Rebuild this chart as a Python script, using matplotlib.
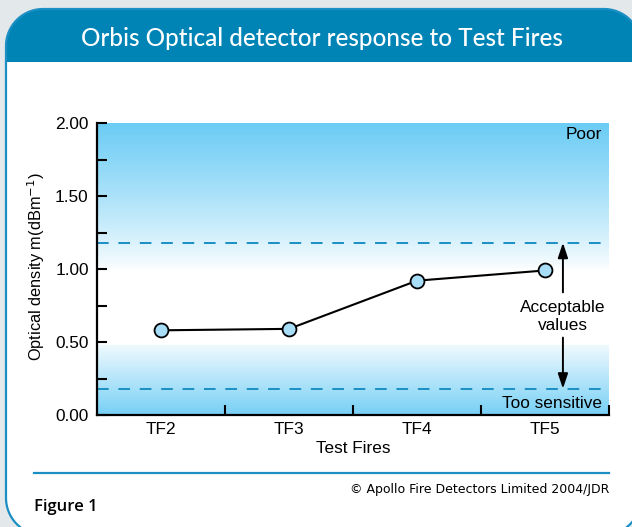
"""Orbis optical detector response to the test fires, redrawn as a figure panel."""

import numpy as np
import matplotlib.pyplot as plt
from matplotlib.patches import Polygon

# Data
TESTS = ["TF2", "TF3", "TF4", "TF5"]
DENSITY = [0.58, 0.59, 0.92, 0.99]
UPPER_LIMIT = 1.18
LOWER_LIMIT = 0.18
Y_TICKS = [0.0, 0.5, 1.0, 1.5, 2.0]

W, H = 632, 527
GREY = "#e3e8eb"
HEADER = "#0084b6"
BORDER = "#1b8fc3"
SKY = np.array([0.42, 0.80, 0.96])
FONT = "Liberation Sans"


def band_colours(n=400):
    """Vertical colour ramp for the plot background (bottom row first)."""
    y = np.linspace(0, 2, n)
    strength = np.zeros(n)
    top = y >= 0.99
    strength[top] = ((y[top] - 0.99) / 1.01) ** 0.85
    low = y <= 0.48
    strength[low] = 0.10 + 0.82 * (0.48 - y[low]) / 0.48
    rgb = 1 - strength[:, None] * (1 - SKY[None, :])
    return rgb[:, None, :]


def rounded_box(x0, y0, x1, y1, r, round_bottom=True):
    """Outline of a box in image pixels (y down) with rounded corners."""
    t = np.linspace(0, np.pi / 2, 20)
    pts = []
    # top-left, top-right
    pts += list(zip(x0 + r - r * np.cos(t), y0 + r - r * np.sin(t)))
    pts += list(zip(x1 - r + r * np.sin(t), y0 + r - r * np.cos(t)))
    if round_bottom:
        pts += list(zip(x1 - r + r * np.cos(t), y1 - r + r * np.sin(t)))
        pts += list(zip(x0 + r - r * np.sin(t), y1 - r + r * np.cos(t)))
    else:
        pts += [(x1, y1), (x0, y1)]
    return np.array(pts)


fig = plt.figure(figsize=(W / 100, H / 100), dpi=100)
fig.patch.set_facecolor(GREY)

# frame drawn in image pixel coordinates
bg = fig.add_axes([0, 0, 1, 1])
bg.set_xlim(0, W)
bg.set_ylim(H, 0)
bg.axis("off")
outline = rounded_box(6, 9, 641, 535, 37)
bg.add_patch(Polygon(outline, closed=True, facecolor="white", edgecolor="none", zorder=1))
bg.add_patch(Polygon(rounded_box(6, 9, 641, 62, 37, round_bottom=False), closed=True,
                     facecolor=HEADER, edgecolor="none", zorder=2))
bg.add_patch(Polygon(outline, closed=True, facecolor="none", edgecolor=BORDER,
                     lw=1.6, zorder=4))
bg.plot([34, 609], [473, 473], color=BORDER, lw=1.6, zorder=5)

fig.text(322 / W, 1 - 39 / H, "Orbis Optical detector response to Test Fires",
         color="white", fontsize=17.5, fontfamily="Lato", fontweight="medium",
         ha="center", va="center")
fig.text(34 / W, 1 - 507 / H, "Figure 1", fontsize=12, fontfamily="Open Sans",
         fontweight="semibold", ha="left", va="center")
fig.text(609 / W, 1 - 490 / H, "\u00a9 Apollo Fire Detectors Limited 2004/JDR",
         fontsize=9, fontfamily="DejaVu Sans", ha="right", va="center")
fig.text(36 / W, 1 - 267 / H, "Optical density m(dBm$^{-1}$)", rotation=90,
         fontsize=11.8, fontfamily=FONT, ha="center", va="center")

# chart
ax = fig.add_axes([97 / W, 1 - 415 / H, 512 / W, 292 / H])
x = np.arange(len(TESTS))
ax.imshow(band_colours(), extent=[-0.5, 3.5, 0, 2], origin="lower",
          aspect="auto", zorder=0)
ax.axhline(UPPER_LIMIT, color=BORDER, lw=1.4, dashes=(6, 5), zorder=1)
ax.axhline(LOWER_LIMIT, color=BORDER, lw=1.4, dashes=(6, 5), zorder=1)
ax.plot(x, DENSITY, color="black", lw=1.5, marker="o", markersize=10,
        markerfacecolor="#a8ddf8", markeredgecolor="black", markeredgewidth=1.3,
        zorder=3)

ax.set_xlim(-0.5, 3.5)
ax.set_ylim(0, 2)
ax.set_xticks(x)
ax.set_xticklabels(TESTS)
ax.set_xticks([0.5, 1.5, 2.5, 3.5], minor=True)
ax.set_yticks(Y_TICKS)
ax.set_yticklabels([f"{v:.2f}" for v in Y_TICKS])
ax.set_yticks([0.25, 0.75, 1.25, 1.75], minor=True)
ax.tick_params(axis="x", which="major", length=0, pad=5, labelsize=12.4)
ax.tick_params(axis="x", which="minor", direction="in", length=7, width=1.5)
ax.tick_params(axis="y", which="both", direction="in", length=7, width=1.5,
               pad=6, labelsize=12.4)
for lab in ax.get_xticklabels() + ax.get_yticklabels():
    lab.set_fontfamily(FONT)
for side in ["top", "right"]:
    ax.spines[side].set_visible(False)
for side in ["left", "bottom"]:
    ax.spines[side].set_linewidth(1.6)
ax.set_xlabel("Test Fires", fontsize=12.3, fontfamily=FONT, labelpad=3)

# range annotation
ax_x = 3.14
arrow = dict(arrowstyle="-|>,head_length=0.9,head_width=0.3", color="black", lw=1.4,
             shrinkA=0, shrinkB=0)
ax.annotate("", xy=(ax_x, UPPER_LIMIT), xytext=(ax_x, 0.84), arrowprops=arrow, zorder=4)
ax.annotate("", xy=(ax_x, LOWER_LIMIT), xytext=(ax_x, 0.53), arrowprops=arrow, zorder=4)
ax.text(ax_x, 0.675, "Acceptable\nvalues", ha="center", va="center", fontsize=12.4,
        fontfamily=FONT, linespacing=1.25)
ax.text(3.445, 1.92, "Poor", ha="right", va="center", fontsize=12.4, fontfamily=FONT)
ax.text(3.445, 0.08, "Too sensitive", ha="right", va="center", fontsize=12.4,
        fontfamily=FONT)

fig.savefig("out.png", dpi=100, facecolor=GREY)
plt.close(fig)
